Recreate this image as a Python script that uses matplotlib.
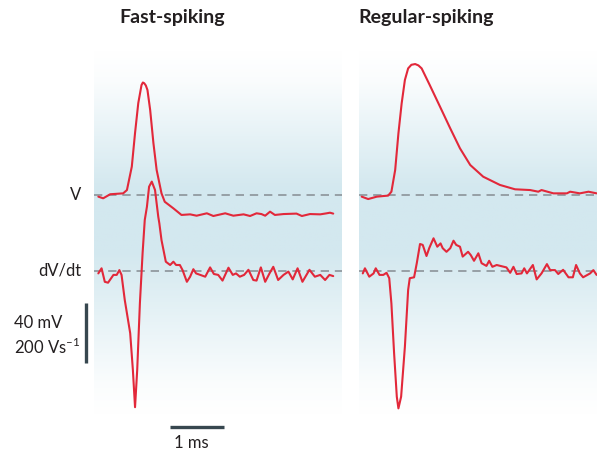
import numpy as np
import matplotlib
matplotlib.use("Agg")
import matplotlib.pyplot as plt
from matplotlib.colors import LinearSegmentedColormap

plt.rcParams['font.family'] = ['Lato', 'DejaVu Sans']
plt.rcParams['mathtext.fontset'] = 'custom'
plt.rcParams['mathtext.rm'] = 'Lato'

# Fast-spiking: membrane potential (mV, relative to baseline) vs time (ms)
fs_t_v = [0.08, 0.17, 0.30, 0.54, 0.61, 0.70, 0.76, 0.82, 0.88, 0.905, 0.93, 0.96, 0.99, 1.04,
          1.10, 1.16, 1.25, 1.31, 1.47, 1.62, 1.78, 1.90, 2.09, 2.21, 2.43, 2.58,
          2.77, 2.89, 3.01, 3.10, 3.17, 3.26, 3.35, 3.51, 3.75, 3.85, 4.00, 4.19,
          4.31, 4.37, 4.43]
fs_v = [-1.1, -2.2, 0.5, 1.1, 3.3, 18.9, 41.3, 61.3, 73.3, 75.0, 74.5, 73.0, 70, 56.7,
        34.7, 16.7, 1.1, -4.5, -8.9, -13.3, -12.9, -13.8, -12.2, -14.0, -12.2, -13.8,
        -12.9, -14.0, -12.2, -12.7, -13.8, -11.1, -13.3, -12.7, -12.4, -14.0, -12.7, -12.9,
        -12.2, -11.8, -12.4]

# Fast-spiking: dV/dt (V/s)
fs_t_d = [0.08, 0.14, 0.20, 0.26, 0.36, 0.42, 0.47, 0.51, 0.57, 0.67, 0.72, 0.76,
          0.80, 0.85, 0.90, 0.94, 0.98, 1.02, 1.07, 1.13, 1.19, 1.21, 1.25, 1.33,
          1.41, 1.47, 1.52, 1.59, 1.64, 1.72, 1.78, 1.84, 1.89,
          2.06, 2.15, 2.22, 2.30, 2.38, 2.49, 2.57, 2.63, 2.70, 2.78, 2.86, 2.95,
          3.01, 3.09, 3.17, 3.25, 3.32, 3.41, 3.51, 3.60, 3.68, 3.77, 3.86, 3.99,
          4.09, 4.19, 4.28, 4.36, 4.43]
fs_d = [-8, 9, -36, -39, -13, -13, 3, -13, -97, -207, -330, -454,
        -330, -107, 60, 170, 214, 281, 298, 270, 181, 159, 103, 31,
        20, 31, 20, 20, 3, -36, -19, 6, -8,
        -19, 12, -10, -13, -32, 11, -13, -8, -19, -13, 4, -30,
        -32, 12, -36, -8, 14, -30, -13, -2, -28, 9, -36, 4,
        -19, -13, -30, -13, -17]

# Regular-spiking: membrane potential
rs_t_v = [0.05, 0.17, 0.33, 0.54, 0.60, 0.67, 0.73, 0.79, 0.85, 0.91, 0.97, 1.04,
          1.10, 1.16, 1.31, 1.50, 1.69, 1.87, 2.06, 2.30, 2.61, 2.89, 3.17, 3.32,
          3.38, 3.60, 3.85, 3.91, 4.09, 4.25, 4.40]
rs_v = [-1.1, -2.7, -1.1, -0.4, 2.2, 16.7, 41.1, 61.1, 76.7, 84.4, 86.8, 87.3,
        86.4, 84.4, 73.3, 58.9, 44.4, 31.1, 20, 12.2, 6.7, 3.8, 3.3, 2.2,
        3.3, 1.1, 1.1, 2.2, 1.1, 2.2, 1.1]

# Regular-spiking: dV/dt
rs_t_d = [0.07, 0.11, 0.19, 0.27, 0.31, 0.38, 0.45, 0.51, 0.56, 0.60, 0.65, 0.70,
          0.73, 0.78, 0.85, 0.91, 0.94, 1.02, 1.07, 1.13, 1.18, 1.25, 1.30, 1.38,
          1.45, 1.51, 1.55, 1.62, 1.69, 1.75, 1.80, 1.87, 1.92, 2.02, 2.07, 2.13,
          2.21, 2.27, 2.36, 2.41, 2.47, 2.55, 2.73, 2.80, 2.86, 2.92, 3.01, 3.06,
          3.11, 3.22, 3.29, 3.38, 3.48, 3.54, 3.63, 3.69, 3.78, 3.88, 3.96, 4.02,
          4.09, 4.15, 4.28, 4.34, 4.40]
rs_d = [-8, 9, -19, -8, 9, -13, -13, -6, -24, -108, -274, -419,
        -458, -419, -252, -63, -24, -21, 26, 90, 87, 50, 76, 109,
        81, 92, 76, 64, 76, 101, 87, 81, 48, 64, 53, 34,
        59, 26, 17, 34, 14, 20, 12, -6, 14, -10, -8, 9,
        -8, 20, -28, -8, 23, 3, 3, -10, 4, -21, -21, 20,
        -8, -21, -8, 3, -13]

titles = ['Fast-spiking', 'Regular-spiking']
scale_mv = 40      # mV
scale_vs = 200     # V/s
scale_ms = 1       # ms

# layout (pixels)
W, H = 597, 454
px_per_ms = 54.0
px_per_mv = 1.5
dvdt_gain = scale_mv / scale_vs   # mV-units per V/s on screen
dvdt_offset = -(271 - 195) / px_per_mv
red = '#e2283a'
bar_col = '#37474f'
dash_col = '#8c9399'

fig = plt.figure(figsize=(W / 100, H / 100), dpi=100)


def fx(px):
    return px / W


def fy(py):
    return 1 - py / H


panel_top, panel_bot = 50, 415
ylim = (-(panel_bot - 195) / px_per_mv, (195 - panel_top) / px_per_mv)

grad_cmap = LinearSegmentedColormap.from_list('bg', ['#ffffff', '#d3e8ef'])
prof_y = np.linspace(0, 1, 200)
prof = np.interp(prof_y, [0, 0.08, 0.45, 0.62, 0.92, 1.0], [0.0, 0.1, 1.0, 1.0, 0.1, 0.0])

panels = [
    (94, 342, fs_t_v, fs_v, fs_t_d, fs_d, 172),
    (359, 597, rs_t_v, rs_v, rs_t_d, rs_d, 426),
]
axes = []
for (x0, x1, tv, v, td, d, tx), title in zip(panels, titles):
    ax = fig.add_axes([fx(x0), fy(panel_bot), (x1 - x0) / W, (panel_bot - panel_top) / H])
    xmax = (x1 - x0) / px_per_ms
    ax.set_xlim(0, xmax)
    ax.set_ylim(*ylim)
    ax.imshow(prof[:, None], cmap=grad_cmap, vmin=0, vmax=1, origin='lower',
              extent=[0, xmax, ylim[0], ylim[1]], aspect='auto', zorder=0)
    ax.axhline(0, color=dash_col, lw=1.2, dashes=(5, 3.5), zorder=1)
    ax.axhline(dvdt_offset, color=dash_col, lw=1.2, dashes=(5, 3.5), zorder=1)
    ax.plot(tv, v, color=red, lw=1.5, solid_joinstyle='round', solid_capstyle='round', zorder=3)
    ax.plot(td, np.array(d) * dvdt_gain + dvdt_offset, color=red, lw=1.5,
            solid_joinstyle='round', solid_capstyle='round', zorder=3)
    ax.axis('off')
    axes.append(ax)
    fig.text(fx(tx), fy(17), title, ha='center', va='center',
             fontsize=14, fontweight='bold', color='#231f20')

ax = axes[0]
# vertical scale bar (40 mV / 200 V/s)
sx = (86 - 94) / px_per_ms
sy0 = -(303 - 195) / px_per_mv
ax.plot([sx, sx], [sy0, sy0 - scale_mv], color=bar_col, lw=2.4, solid_capstyle='butt', clip_on=False)
# horizontal scale bar (1 ms)
hx0 = (170 - 94) / px_per_ms
hy = -(427 - 195) / px_per_mv
ax.plot([hx0, hx0 + scale_ms], [hy, hy], color=bar_col, lw=2.4, solid_capstyle='butt', clip_on=False)

txt = '#231f20'
fig.text(fx(81), fy(195), 'V', ha='right', va='center', fontsize=12, color=txt)
fig.text(fx(81), fy(271), 'dV/dt', ha='right', va='center', fontsize=12, color=txt)
fig.text(fx(14), fy(323), f'{scale_mv} mV', ha='left', va='center', fontsize=12, color=txt)
fig.text(fx(14), fy(347), f'{scale_vs} Vs' + r'$^{\mathregular{–1}}$', ha='left', va='center',
         fontsize=12, color=txt)
fig.text(fx(191), fy(443), f'{scale_ms} ms', ha='center', va='center', fontsize=12, color=txt)

fig.savefig('out.png', dpi=100)
